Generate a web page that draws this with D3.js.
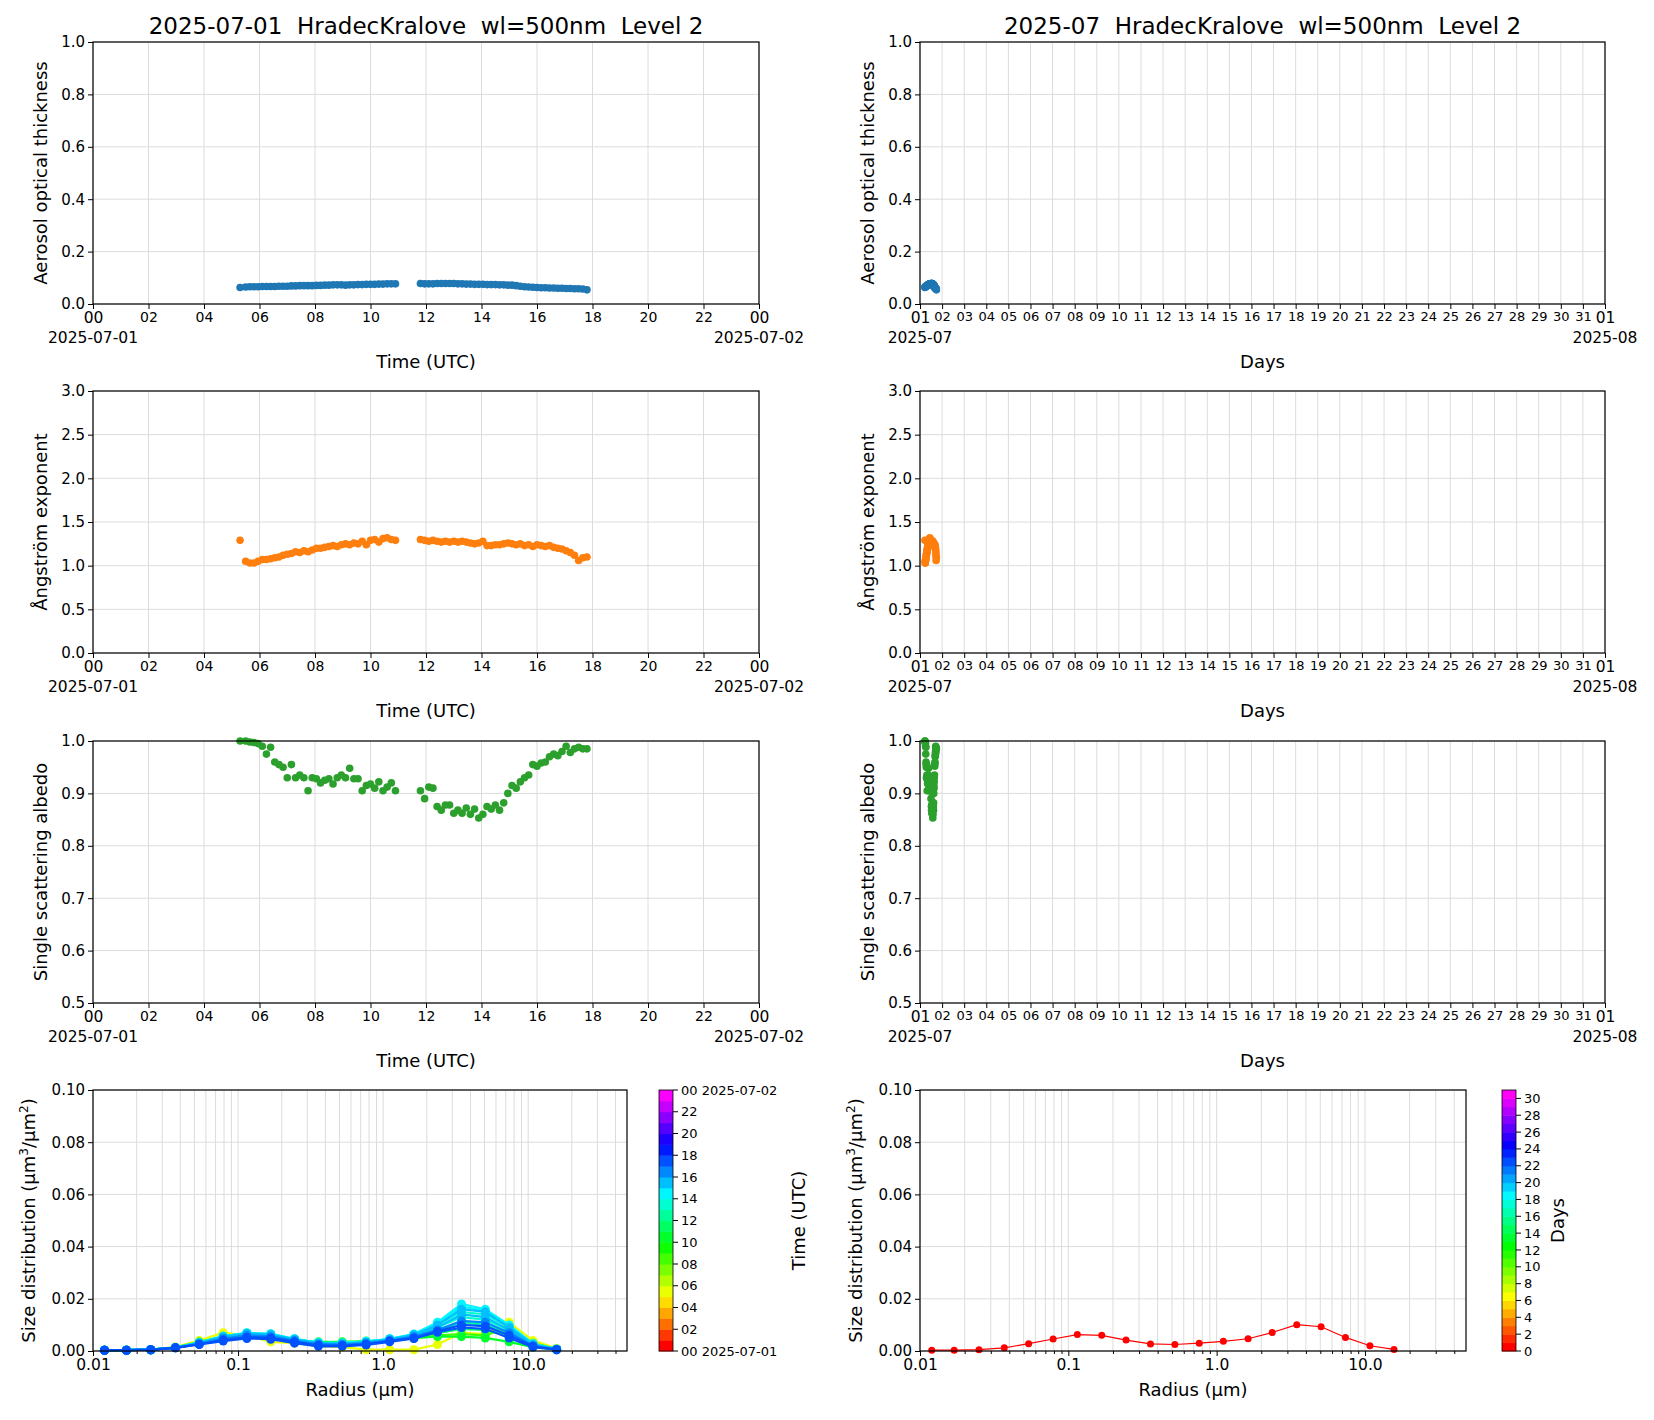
<!DOCTYPE html>
<html><head><meta charset="utf-8">
<script src="https://cdn.jsdelivr.net/npm/d3@7"></script>
<style>body{margin:0;background:#fff}svg{font-family:"DejaVu Sans",sans-serif}text{white-space:pre}</style>
</head><body><svg id="c" width="1654" height="1420"></svg>
<script>
const hours = [5.3,5.5,5.65,5.8,5.95,6.1,6.25,6.4,6.55,6.7,6.85,7.0,7.15,7.3,7.45,7.6,7.75,7.9,8.05,8.2,8.35,8.5,8.65,8.8,8.95,9.1,9.25,9.4,9.55,9.7,9.85,10.0,10.15,10.3,10.45,10.6,10.75,10.9,
11.8,11.95,12.1,12.25,12.4,12.55,12.7,12.85,13.0,13.15,13.3,13.45,13.6,13.75,13.9,14.05,14.2,14.35,14.5,14.65,14.8,14.95,15.1,15.25,15.4,15.55,15.7,15.85,16.0,16.15,16.3,16.45,16.6,16.75,16.9,17.05,17.2,17.35,17.5,17.65,17.8];
const aot = [0.063,0.065,0.066,0.066,0.066,0.067,0.067,0.067,0.067,0.068,0.068,0.068,0.069,0.069,0.070,0.070,0.070,0.070,0.071,0.071,0.072,0.072,0.073,0.073,0.073,0.072,0.073,0.073,0.074,0.074,0.075,0.075,0.075,0.076,0.076,0.077,0.077,0.077,
0.078,0.077,0.077,0.077,0.078,0.078,0.078,0.078,0.078,0.077,0.077,0.076,0.076,0.075,0.075,0.075,0.074,0.074,0.074,0.073,0.073,0.072,0.072,0.070,0.068,0.066,0.065,0.064,0.063,0.062,0.062,0.061,0.061,0.060,0.060,0.059,0.059,0.058,0.058,0.057,0.054];
const angstrom = [1.29,1.05,1.03,1.03,1.05,1.07,1.07,1.08,1.09,1.10,1.12,1.13,1.14,1.16,1.15,1.17,1.16,1.18,1.20,1.20,1.21,1.22,1.23,1.22,1.24,1.25,1.24,1.26,1.25,1.28,1.24,1.29,1.30,1.27,1.31,1.32,1.30,1.29,
1.30,1.29,1.28,1.29,1.28,1.27,1.28,1.27,1.28,1.27,1.28,1.27,1.26,1.25,1.26,1.28,1.23,1.23,1.24,1.24,1.25,1.26,1.25,1.24,1.25,1.23,1.24,1.22,1.24,1.23,1.22,1.23,1.21,1.20,1.19,1.17,1.15,1.12,1.06,1.09,1.10];
const ssa = [1.000,1.000,0.998,0.997,0.995,0.990,0.975,0.988,0.960,0.955,0.950,0.930,0.955,0.930,0.935,0.930,0.905,0.930,0.928,0.920,0.925,0.928,0.918,0.930,0.935,0.930,0.948,0.928,0.928,0.905,0.915,0.918,0.910,0.922,0.905,0.912,0.920,0.905,
0.905,0.890,0.912,0.910,0.875,0.868,0.878,0.878,0.862,0.868,0.862,0.872,0.860,0.870,0.853,0.860,0.875,0.870,0.878,0.868,0.882,0.900,0.915,0.910,0.922,0.930,0.935,0.955,0.952,0.958,0.960,0.970,0.975,0.972,0.980,0.990,0.978,0.985,0.988,0.985,0.985];
const radii = [0.012,0.017,0.025,0.037,0.054,0.079,0.115,0.168,0.245,0.358,0.523,0.763,1.11,1.63,2.37,3.47,5.06,7.39,10.8,15.7];
const sdHours = [5.5,8,10,11.8,12.5,13.2,13.8,14.3,14.8,15.3,15.8,16.3,17.0,17.6];
const sdCurves = [
 [0.0003,0.0003,0.0005,0.0015,0.0040,0.0070,0.0060,0.0035,0.0030,0.0020,0.0015,0.0005,0.0005,0.0005,0.0025,0.0070,0.0065,0.0110,0.0040,0.0010],
 [0.0003,0.0003,0.0005,0.0014,0.0035,0.0055,0.0058,0.0050,0.0038,0.0032,0.0033,0.0035,0.0040,0.0048,0.0060,0.0065,0.0060,0.0090,0.0030,0.0008],
 [0.0003,0.0003,0.0005,0.0013,0.0030,0.0050,0.0060,0.0055,0.0042,0.0035,0.0035,0.0038,0.0042,0.0050,0.0055,0.0055,0.0050,0.0035,0.0015,0.0005],
 [0.0003,0.0003,0.0005,0.0013,0.0030,0.0052,0.0062,0.0058,0.0043,0.0033,0.0032,0.0036,0.0043,0.0055,0.0068,0.0085,0.0080,0.0060,0.0020,0.0006],
 [0.0003,0.0003,0.0005,0.0013,0.0031,0.0053,0.0064,0.0060,0.0044,0.0032,0.0031,0.0036,0.0044,0.0058,0.0080,0.0110,0.0100,0.0070,0.0022,0.0006],
 [0.0003,0.0003,0.0005,0.0013,0.0032,0.0055,0.0066,0.0062,0.0045,0.0032,0.0030,0.0036,0.0045,0.0060,0.0090,0.0130,0.0120,0.0080,0.0024,0.0006],
 [0.0003,0.0003,0.0005,0.0013,0.0032,0.0056,0.0068,0.0064,0.0046,0.0031,0.0030,0.0036,0.0046,0.0062,0.0100,0.0150,0.0140,0.0090,0.0026,0.0007],
 [0.0003,0.0003,0.0005,0.0013,0.0032,0.0057,0.0070,0.0066,0.0047,0.0031,0.0030,0.0036,0.0047,0.0065,0.0110,0.0180,0.0160,0.0100,0.0028,0.0007],
 [0.0003,0.0003,0.0005,0.0013,0.0032,0.0056,0.0069,0.0065,0.0046,0.0031,0.0029,0.0035,0.0046,0.0064,0.0105,0.0170,0.0155,0.0095,0.0027,0.0007],
 [0.0003,0.0003,0.0005,0.0013,0.0031,0.0055,0.0067,0.0063,0.0045,0.0030,0.0028,0.0034,0.0045,0.0062,0.0100,0.0160,0.0150,0.0090,0.0025,0.0007],
 [0.0003,0.0003,0.0005,0.0012,0.0030,0.0053,0.0065,0.0060,0.0043,0.0029,0.0027,0.0033,0.0043,0.0060,0.0090,0.0140,0.0130,0.0080,0.0023,0.0006],
 [0.0003,0.0003,0.0005,0.0012,0.0028,0.0048,0.0060,0.0056,0.0040,0.0026,0.0025,0.0030,0.0040,0.0055,0.0080,0.0115,0.0110,0.0070,0.0020,0.0006],
 [0.0003,0.0003,0.0005,0.0012,0.0026,0.0042,0.0053,0.0050,0.0035,0.0022,0.0021,0.0026,0.0038,0.0050,0.0075,0.0100,0.0095,0.0060,0.0018,0.0005],
 [0.0003,0.0003,0.0005,0.0012,0.0025,0.0038,0.0048,0.0045,0.0030,0.0018,0.0018,0.0023,0.0035,0.0048,0.0072,0.0090,0.0085,0.0050,0.0015,0.0005]];
const sdMonth = [0.0003,0.0003,0.0005,0.0012,0.0028,0.0046,0.0063,0.0060,0.0042,0.0027,0.0025,0.0030,0.0037,0.0047,0.0071,0.0101,0.0093,0.0052,0.0020,0.0006];
const hourTicks = ["00","02","04","06","08","10","12","14","16","18","20","22","00"];
const dayTicks = ["01","02","03","04","05","06","07","08","09","10","11","12","13","14","15","16","17","18","19","20","21","22","23","24","25","26","27","28","29","30","31","01"];

const svg = d3.select("#c");
const GRID="#dcdcdc";
function rainbow(t){ return d3.hsl(Math.min(t*312,312),1,0.5).toString(); }
function frame(g,w,h){g.append("rect").attr("width",w).attr("height",h).attr("fill","none").attr("stroke","#000").attr("stroke-width",1.2);}
function ylab(g,h,text,dx){g.append("text").attr("transform",`translate(${dx},${h/2}) rotate(-90)`).attr("text-anchor","middle").attr("font-size",18).text(text);}
function yaxis(g,y,w,ticks,fmt){
  ticks.forEach(v=>g.append("line").attr("x1",0).attr("x2",w).attr("y1",y(v)).attr("y2",y(v)).attr("stroke",GRID));
  const ax=g.append("g").call(d3.axisLeft(y).tickValues(ticks).tickFormat(fmt).tickSize(5).tickSizeOuter(0));
  ax.select(".domain").remove(); ax.selectAll("text").attr("font-size",15).attr("font-family","DejaVu Sans");
}
function panel(x0,y0,w,h,kind,vals,yd,yt,yfmt,color,ytext,title,xtext){
  const g=svg.append("g").attr("transform",`translate(${x0},${y0})`);
  const y=d3.scaleLinear().domain(yd).range([h,0]);
  let x, xs;
  if(kind==="day"){ x=d3.scaleLinear().domain([0,24]).range([0,w]); xs=hours; }
  else { x=d3.scaleLinear().domain([1,32]).range([0,w]); xs=hours.map(hh=>1+hh/24); }
  const n = kind==="day"?hourTicks.length:dayTicks.length;
  const tv=d3.range(n).map(i=>kind==="day"?i*2:i+1);
  tv.forEach(v=>g.append("line").attr("x1",x(v)).attr("x2",x(v)).attr("y1",0).attr("y2",h).attr("stroke",GRID));
  yaxis(g,y,w,yt,yfmt);
  const labs=kind==="day"?hourTicks:dayTicks;
  const ax=g.append("g").attr("transform",`translate(0,${h})`).call(d3.axisBottom(x).tickValues(tv).tickFormat((d,i)=>labs[i]).tickSize(5).tickSizeOuter(0));
  ax.select(".domain").remove();
  ax.selectAll("text").attr("font-size",kind==="day"?14:13).attr("font-family","DejaVu Sans");
  ax.selectAll("text").filter((d,i)=>i===0||i===n-1).attr("font-size",15.5);
  const d0 = kind==="day"?["2025-07-01","2025-07-02"]:["2025-07","2025-08"];
  g.append("text").attr("x",x(tv[0])).attr("y",h+39).attr("text-anchor","middle").attr("font-size",15.5).text(d0[0]);
  g.append("text").attr("x",x(tv[n-1])).attr("y",h+39).attr("text-anchor","middle").attr("font-size",15.5).text(d0[1]);
  g.append("text").attr("x",w/2).attr("y",h+64).attr("text-anchor","middle").attr("font-size",18).text(xtext);
  vals.forEach((v,i)=>{ if(v<=yd[1]+0.004) g.append("circle").attr("cx",x(xs[i])).attr("cy",y(Math.min(v,yd[1]))).attr("r",3.8).attr("fill",color);});
  frame(g,w,h);
  ylab(g,h,ytext,-46);
  if(title) g.append("text").attr("x",w/2).attr("y",-8).attr("text-anchor","middle").attr("font-size",23).text(title);
}
const L=[93,666], R=[920,685];
const rows=[42,391,741];
const f1=d3.format(".1f");
panel(L[0],rows[0],L[1],262,"day",aot,[0,1],[0,0.2,0.4,0.6,0.8,1.0],f1,"#1f77b4","Aerosol optical thickness","2025-07-01  HradecKralove  wl=500nm  Level 2","Time (UTC)");
panel(R[0],rows[0],R[1],262,"month",aot,[0,1],[0,0.2,0.4,0.6,0.8,1.0],f1,"#1f77b4","Aerosol optical thickness","2025-07  HradecKralove  wl=500nm  Level 2","Days");
panel(L[0],rows[1],L[1],262,"day",angstrom,[0,3],[0,0.5,1,1.5,2,2.5,3],f1,"#ff7f0e","Ångström exponent",null,"Time (UTC)");
panel(R[0],rows[1],R[1],262,"month",angstrom,[0,3],[0,0.5,1,1.5,2,2.5,3],f1,"#ff7f0e","Ångström exponent",null,"Days");
panel(L[0],rows[2],L[1],262,"day",ssa,[0.5,1],[0.5,0.6,0.7,0.8,0.9,1.0],f1,"#2ca02c","Single scattering albedo",null,"Time (UTC)");
panel(R[0],rows[2],R[1],262,"month",ssa,[0.5,1],[0.5,0.6,0.7,0.8,0.9,1.0],f1,"#2ca02c","Single scattering albedo",null,"Days");

function sdPanel(x0,y0,w,h,curves,cols,lw){
  const g=svg.append("g").attr("transform",`translate(${x0},${y0})`);
  const x=d3.scaleLog().domain([0.01,48]).range([0,w]);
  const y=d3.scaleLinear().domain([0,0.1]).range([h,0]);
  const minor=[];[0.01,0.1,1,10].forEach(b=>{for(let k=1;k<10;k++){const v=b*k;if(v<=48)minor.push(v);}});
  minor.forEach(v=>g.append("line").attr("x1",x(v)).attr("x2",x(v)).attr("y1",0).attr("y2",h).attr("stroke",GRID));
  yaxis(g,y,w,[0,0.02,0.04,0.06,0.08,0.1],d3.format(".2f"));
  const ax=g.append("g").attr("transform",`translate(0,${h})`).call(d3.axisBottom(x).tickValues([0.01,0.1,1,10]).tickFormat(d=>d===0.01?"0.01":d.toFixed(1)).tickSize(5).tickSizeOuter(0));
  ax.select(".domain").remove(); ax.selectAll("text").attr("font-size",15.5).attr("font-family","DejaVu Sans");
  g.append("g").attr("transform",`translate(0,${h})`).call(d3.axisBottom(x).tickValues(minor.filter(v=>![0.01,0.1,1,10].includes(v))).tickFormat("").tickSize(3)).select(".domain").remove();
  const line=d3.line().x((d,i)=>x(radii[i])).y(d=>y(d));
  curves.forEach((c,j)=>{
    g.append("path").attr("d",line(c)).attr("fill","none").attr("stroke",cols[j]).attr("stroke-width",lw);
    c.forEach((v,i)=>g.append("circle").attr("cx",x(radii[i])).attr("cy",y(v)).attr("r",lw>1.2?4.5:3.5).attr("fill",cols[j]));
  });
  frame(g,w,h);
  g.append("text").attr("x",w/2).attr("y",h+45).attr("text-anchor","middle").attr("font-size",18).text("Radius (µm)");
  g.append("text").attr("transform",`translate(-58,${h/2}) rotate(-90)`).attr("text-anchor","middle").attr("font-size",18)
    .html('Size distribution (µm<tspan baseline-shift="super" font-size="12">3</tspan>/µm<tspan baseline-shift="super" font-size="12">2</tspan>)');
}
const sdY=1090, sdH=261;
sdPanel(93,sdY,534,sdH,sdCurves,sdHours.map(hh=>rainbow(Math.floor(hh)/24)),2.2);
sdPanel(920,sdY,546,sdH,[sdMonth],["#ff0000"],1.2);

function colorbar(x0,n,ticks,labFn,title,titleX){
  const g=svg.append("g").attr("transform",`translate(${x0},${sdY})`);
  const y=d3.scaleLinear().domain([0,n]).range([sdH,0]);
  d3.range(n).forEach(i=>g.append("rect").attr("x",0).attr("width",14).attr("y",y(i+1)).attr("height",y(i)-y(i+1)+0.5).attr("fill",rainbow(i/n)));
  g.append("rect").attr("width",14).attr("height",sdH).attr("fill","none").attr("stroke","#000").attr("stroke-width",0.8);
  ticks.forEach(t=>{g.append("line").attr("x1",14).attr("x2",19).attr("y1",y(t)).attr("y2",y(t)).attr("stroke","#000");
    g.append("text").attr("x",22).attr("y",y(t)).attr("dy","0.35em").attr("font-size",13).text(labFn(t));});
  g.append("text").attr("transform",`translate(${titleX},${sdH/2}) rotate(-90)`).attr("text-anchor","middle").attr("font-size",18).text(title);
}
colorbar(659,24,d3.range(0,25,2),t=>t===0?"00 2025-07-01":t===24?"00 2025-07-02":d3.format("02d")(t),"Time (UTC)",146);
colorbar(1502,31,d3.range(0,31,2),t=>String(t),"Days",62);
</script></body></html>
